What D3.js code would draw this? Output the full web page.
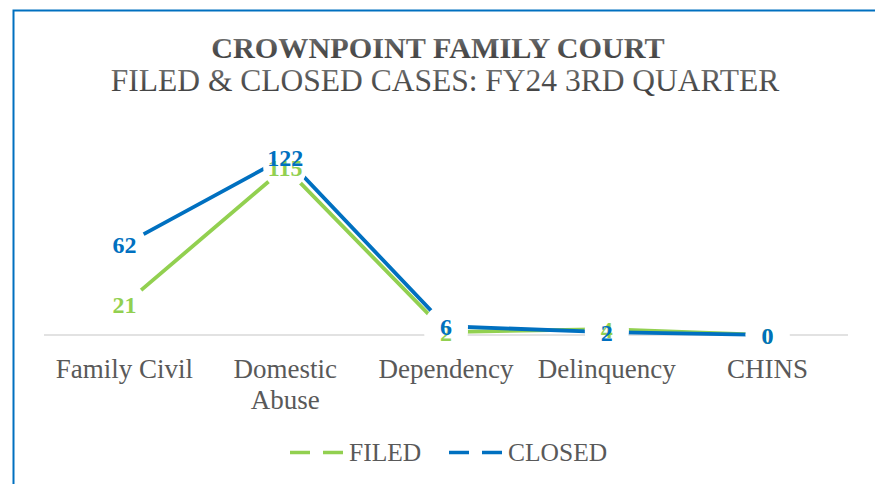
<!DOCTYPE html>
<html>
<head>
<meta charset="utf-8">
<script src="https://cdn.jsdelivr.net/npm/d3@7"></script>
<style>
  html, body { margin: 0; padding: 0; background: #fff; }
  svg { display: block; }
  svg text { font-family: "Liberation Serif", "Tinos", "DejaVu Serif", serif; }
</style>
</head>
<body>
<svg id="chart" width="875" height="484"></svg>
<script>
const categories = ["Family Civil", "Domestic Abuse", "Dependency", "Delinquency", "CHINS"];
const filed = [21, 115, 2, 4, 0];
const closed = [62, 122, 6, 2, 0];
const seriesNames = ["FILED", "CLOSED"];
const seriesColors = ["#92D050", "#0070C0"];
const titleText = "CROWNPOINT FAMILY COURT";
const subtitleText = "FILED & CLOSED CASES: FY24 3RD QUARTER";

const svg = d3.select("#chart");

const defs = svg.append("defs");
const grad = defs.append("linearGradient").attr("id", "tg").attr("x1", 0).attr("y1", 0).attr("x2", 0).attr("y2", 1);
grad.append("stop").attr("offset", "0%").attr("stop-color", "#808080");
grad.append("stop").attr("offset", "55%").attr("stop-color", "#4f4f4f");
grad.append("stop").attr("offset", "100%").attr("stop-color", "#3c3c3c");

svg.append("rect").attr("x", 13.5).attr("y", 10.5).attr("width", 900).attr("height", 600)
  .attr("fill", "none").attr("stroke", "#0070C0").attr("stroke-width", 2);

svg.append("text").attr("x", 438).attr("y", 58).attr("text-anchor", "middle")
  .attr("font-weight", "bold").attr("font-size", 30.2)
  .attr("fill", "url(#tg)").text(titleText);
svg.append("text").attr("x", 445).attr("y", 91).attr("text-anchor", "middle")
  .attr("font-size", 31.5)
  .attr("fill", "url(#tg)").text(subtitleText);

const x = d3.scaleBand().domain(categories).range([44, 848]);
const y = d3.scaleLinear().domain([0, 140]).range([335, 131]);
const cx = d => x(d) + x.bandwidth() / 2;

svg.append("line").attr("x1", 44).attr("x2", 848).attr("y1", y(0)).attr("y2", y(0))
  .attr("stroke", "#d9d9d9").attr("stroke-width", 1.5);

const catG = svg.append("g");
categories.forEach(c => {
  const words = c === "Domestic Abuse" ? ["Domestic", "Abuse"] : [c];
  const t = catG.append("text").attr("x", cx(c)).attr("y", 378).attr("text-anchor", "middle")
    .attr("font-size", 27).attr("fill", "#595959");
  words.forEach((w, i) => t.append("tspan").attr("x", cx(c)).attr("dy", i === 0 ? 0 : 31).text(w));
});

const series = [filed, closed];
const line = d3.line().x((d, i) => cx(categories[i])).y(d => y(d));

series.forEach((s, k) => {
  svg.append("path").attr("d", line(s)).attr("fill", "none")
    .attr("stroke", seriesColors[k]).attr("stroke-width", 3.8);
});

series.forEach((s, k) => {
  svg.append("g").selectAll("circle").data(s).join("circle")
    .attr("cx", (d, i) => cx(categories[i])).attr("cy", d => y(d)).attr("r", 22)
    .attr("fill", "#fff");
});

series.forEach((s, k) => {
  svg.append("g").selectAll("text").data(s).join("text")
    .attr("x", (d, i) => cx(categories[i])).attr("y", d => y(d) + 8.5)
    .attr("text-anchor", "middle").attr("font-weight", "bold")
    .attr("font-size", 24).attr("fill", seriesColors[k]).text(d => d);
});

const legendX = [290, 449];
series.forEach((s, k) => {
  const lx = legendX[k];
  svg.append("line").attr("x1", lx).attr("x2", lx + 53).attr("y1", 452.5).attr("y2", 452.5)
    .attr("stroke", seriesColors[k]).attr("stroke-width", 3.5).attr("stroke-dasharray", "20,13");
  svg.append("text").attr("x", lx + 59).attr("y", 461)
    .attr("font-size", 25.5).attr("fill", "#595959").text(seriesNames[k]);
});
</script>
</body>
</html>
